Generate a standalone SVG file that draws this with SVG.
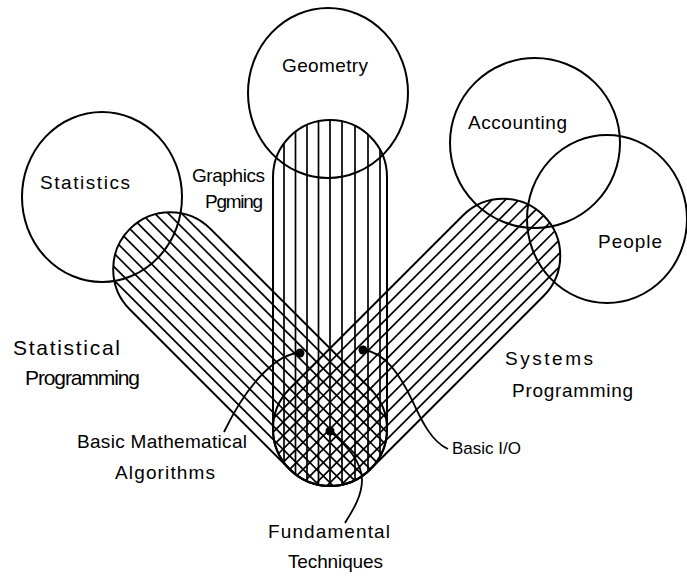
<svg xmlns="http://www.w3.org/2000/svg" width="687" height="579" viewBox="0 0 687 579">
<style>
  .bg{fill:#fff}
  .ring{fill:none;stroke:#000;stroke-width:2}
  .edge{fill:none;stroke:#000;stroke-width:2}
  .hatch line{stroke:#000;stroke-width:1.7}
  .lead{fill:none;stroke:#000;stroke-width:1.8}
  .dot{fill:#000}
  text{font-family:"Liberation Sans","DejaVu Sans",Arial,sans-serif;font-size:19px;fill:#000}
  .big{font-size:21px}
  .small{font-size:17px}
</style>
<defs>
  <clipPath id="clipV"><rect x="-57" y="-57" width="366" height="114" rx="57"/></clipPath>
  <clipPath id="clipL"><rect x="-57" y="-57" width="340" height="114" rx="57"/></clipPath>
  <clipPath id="clipR"><rect x="-57" y="-57" width="359" height="114" rx="57"/></clipPath>
</defs>
<rect class="bg" x="0" y="0" width="687" height="579"/>

<!-- Statistical Programming capsule -->
<g id="statistical-programming" transform="translate(330,429) rotate(225)">
  <g class="hatch" clip-path="url(#clipL)">
    <line x1="-60" y1="-47.5" x2="290" y2="-47.5"/>
    <line x1="-60" y1="-38" x2="290" y2="-38"/>
    <line x1="-60" y1="-28.5" x2="290" y2="-28.5"/>
    <line x1="-60" y1="-19" x2="290" y2="-19"/>
    <line x1="-60" y1="-9.5" x2="290" y2="-9.5"/>
    <line x1="-60" y1="0" x2="290" y2="0"/>
    <line x1="-60" y1="9.5" x2="290" y2="9.5"/>
    <line x1="-60" y1="19" x2="290" y2="19"/>
    <line x1="-60" y1="28.5" x2="290" y2="28.5"/>
    <line x1="-60" y1="38" x2="290" y2="38"/>
    <line x1="-60" y1="47.5" x2="290" y2="47.5"/>
  </g>
  <rect class="edge" x="-57" y="-57" width="340" height="114" rx="57"/>
</g>

<!-- Systems Programming capsule -->
<g id="systems-programming" transform="translate(330,429) rotate(-45)">
  <g class="hatch" clip-path="url(#clipR)">
    <line x1="-60" y1="-47.5" x2="310" y2="-47.5"/>
    <line x1="-60" y1="-38" x2="310" y2="-38"/>
    <line x1="-60" y1="-28.5" x2="310" y2="-28.5"/>
    <line x1="-60" y1="-19" x2="310" y2="-19"/>
    <line x1="-60" y1="-9.5" x2="310" y2="-9.5"/>
    <line x1="-60" y1="0" x2="310" y2="0"/>
    <line x1="-60" y1="9.5" x2="310" y2="9.5"/>
    <line x1="-60" y1="19" x2="310" y2="19"/>
    <line x1="-60" y1="28.5" x2="310" y2="28.5"/>
    <line x1="-60" y1="38" x2="310" y2="38"/>
    <line x1="-60" y1="47.5" x2="310" y2="47.5"/>
  </g>
  <rect class="edge" x="-57" y="-57" width="359" height="114" rx="57"/>
</g>

<!-- Graphics Programming capsule -->
<g id="graphics-programming" transform="translate(330,429) rotate(-90)">
  <g class="hatch" clip-path="url(#clipV)">
    <line x1="-60" y1="-46" x2="320" y2="-46"/>
    <line x1="-60" y1="-34.5" x2="320" y2="-34.5"/>
    <line x1="-60" y1="-23" x2="320" y2="-23"/>
    <line x1="-60" y1="-11.5" x2="320" y2="-11.5"/>
    <line x1="-60" y1="0" x2="320" y2="0"/>
    <line x1="-60" y1="12" x2="320" y2="12"/>
    <line x1="-60" y1="25" x2="320" y2="25"/>
    <line x1="-60" y1="38" x2="320" y2="38"/>
    <line x1="-60" y1="50" x2="320" y2="50"/>
  </g>
  <rect class="edge" x="-57" y="-57" width="366" height="114" rx="57"/>
</g>

<!-- Circles -->
<g id="geometry"><ellipse class="ring" cx="328" cy="93" rx="80" ry="85"/>
  <text x="282" y="72" textLength="86" lengthAdjust="spacing">Geometry</text></g>
<g id="statistics"><ellipse class="ring" cx="102" cy="197" rx="80" ry="85"/>
  <text x="40" y="189" textLength="90" lengthAdjust="spacing">Statistics</text></g>
<g id="accounting"><ellipse class="ring" cx="535" cy="143" rx="85" ry="85"/>
  <text x="468" y="129" textLength="99" lengthAdjust="spacing">Accounting</text></g>
<g id="people"><ellipse class="ring" cx="607" cy="219" rx="80" ry="84"/>
  <text x="598" y="248" textLength="64" lengthAdjust="spacing">People</text></g>

<!-- Capsule labels -->
<g id="label-graphics">
  <text x="192" y="182" textLength="73" lengthAdjust="spacing">Graphics</text>
  <text x="205" y="208" textLength="58" lengthAdjust="spacing">Pgming</text>
</g>
<g id="label-statistical">
  <text class="big" x="13" y="355" textLength="107" lengthAdjust="spacing">Statistical</text>
  <text class="big" x="25" y="385" textLength="115" lengthAdjust="spacing">Programming</text>
</g>
<g id="label-systems">
  <text x="505" y="365" textLength="88" lengthAdjust="spacing">Systems</text>
  <text x="512" y="397" textLength="121" lengthAdjust="spacing">Programming</text>
</g>

<!-- Intersection labels -->
<g id="basic-math">
  <text x="77" y="448" textLength="170" lengthAdjust="spacing">Basic Mathematical</text>
  <text x="115" y="479" textLength="100" lengthAdjust="spacing">Algorithms</text>
</g>
<g id="basic-io">
  <text class="small" x="452" y="454">Basic I/O</text>
</g>
<g id="fundamental">
  <text x="268" y="538" textLength="122" lengthAdjust="spacing">Fundamental</text>
  <text x="288" y="568" textLength="95" lengthAdjust="spacing">Techniques</text>
</g>

<!-- Connectors (leader lines) -->
<g id="connectors">
  <path class="lead" d="M300,353 C280,353 250,378 224,432"/>
  <path class="lead" d="M363,350 C385,352 400,375 412,400 C422,422 432,442 448,449"/>
  <path class="lead" d="M330,431 C345,445 362,460 362,480 C362,496 353,510 345,523"/>
  <circle class="dot" cx="300" cy="353" r="4.5"/>
  <circle class="dot" cx="363" cy="350" r="4.5"/>
  <circle class="dot" cx="330" cy="431" r="4.5"/>
</g>
</svg>
